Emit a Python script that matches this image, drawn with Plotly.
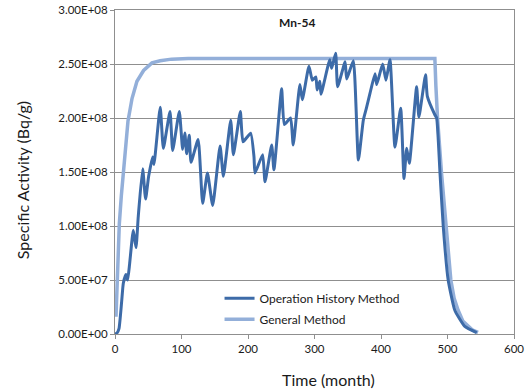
import plotly.graph_objects as go

# Operation History Method (time in months, activity in 1e8 Bq/g)
op_t = [0, 3, 6, 10, 12.5, 16.5, 19, 22, 27.5, 31.6, 35, 41.6, 46, 50.6, 56.6, 58.6,
        68, 72.7, 82.7, 86.7, 96.7, 101.7, 105, 107.8, 111.7, 114.3, 125, 131.8, 139,
        146.9, 158, 163, 174, 178, 188.5, 192.5, 204, 209, 210.5, 222, 225.6, 235.6,
        239, 250.6, 254.6, 264, 268, 278, 281.7, 291.7, 296.7, 302, 304, 308, 309.8,
        323, 325.8, 331.8, 334.8, 346, 348.4, 358.4, 366, 373.4, 378.4, 383.5, 391,
        393.5, 402.5, 407.5, 413.5, 421, 429.6, 434.6, 438.6, 442.6, 453.6, 457, 467,
        469.7, 481, 483.7, 488.7, 493.7, 501, 511, 526, 544]
op_v = [0, 0.01, 0.05, 0.30, 0.47, 0.55, 0.50, 0.65, 0.96, 0.80, 1.09, 1.53, 1.25,
        1.46, 1.64, 1.57, 2.10, 1.72, 2.06, 1.70, 2.06, 1.71, 1.86, 1.67, 1.84, 1.59,
        1.80, 1.21, 1.49, 1.19, 1.74, 1.46, 1.98, 1.66, 2.06, 1.78, 1.86, 1.64, 1.49,
        1.66, 1.41, 1.75, 1.52, 2.27, 1.94, 2.00, 1.75, 2.31, 2.17, 2.48, 2.35, 2.38,
        2.26, 2.34, 2.22, 2.54, 2.46, 2.60, 2.29, 2.52, 2.36, 2.53, 1.61, 1.98, 2.10,
        2.23, 2.41, 2.31, 2.50, 2.35, 2.54, 1.73, 2.09, 1.44, 1.72, 1.58, 2.29, 2.01,
        2.40, 2.20, 2.03, 2.00, 1.49, 0.99, 0.50, 0.22, 0.07, 0.012]

# General Method
gen_t = [1.5, 3, 4.5, 6.5, 9.5, 14.6, 19.5, 25.6, 33, 43, 55.6, 68, 85, 110, 200, 300,
         400, 481, 482.5, 485, 491, 497.7, 505, 510, 516, 523, 531, 538, 546]
gen_v = [0.16, 0.41, 0.72, 1.02, 1.28, 1.66, 1.97, 2.18, 2.34, 2.44, 2.51, 2.53, 2.545,
         2.55, 2.55, 2.55, 2.55, 2.55, 2.30, 2.00, 1.49, 0.99, 0.50, 0.33, 0.22, 0.12,
         0.07, 0.035, 0.015]

y_tickvals = [0, 0.5e8, 1.0e8, 1.5e8, 2.0e8, 2.5e8, 3.0e8]
y_ticktext = ["0.00E+00", "5.00E+07", "1.00E+08", "1.50E+08", "2.00E+08", "2.50E+08", "3.00E+08"]
x_tickvals = [0, 100, 200, 300, 400, 500, 600]

FONT = "Lato, 'Liberation Sans', sans-serif"
DARK = "#3d6ba8"
LIGHT = "#93afd9"
GRID = "#8f8f8f"

fig = go.Figure()
fig.add_trace(go.Scatter(x=gen_t, y=[v * 1e8 for v in gen_v], mode="lines",
                         name="General Method",
                         line=dict(color=LIGHT, width=3.5),
                         legendrank=2, legendgroup="g"))
fig.add_trace(go.Scatter(x=op_t, y=[v * 1e8 for v in op_v], mode="lines",
                         name="Operation History Method",
                         line=dict(color=DARK, width=3, shape="spline", smoothing=0.45),
                         legendrank=1, legendgroup="o"))

fig.update_layout(
    width=532, height=391,
    margin=dict(l=115, r=18, t=10, b=57, autoexpand=False),
    paper_bgcolor="white", plot_bgcolor="white",
    font=dict(family=FONT, size=11, color="#1a1a1a"),
    showlegend=True,
    legend=dict(x=0.262, y=0.155, xanchor="left", yanchor="top",
                bgcolor="rgba(0,0,0,0)", font=dict(size=12, color="#1a1a1a"),
                tracegroupgap=2, itemwidth=30),
    xaxis=dict(range=[0, 600], tickvals=x_tickvals, showgrid=False, zeroline=False,
               showline=True, linecolor=GRID, linewidth=1, mirror=True,
               ticks="outside", ticklen=4, tickcolor=GRID, automargin=False,
               tickfont=dict(family=FONT, size=11.5, color="#1a1a1a")),
    yaxis=dict(range=[0, 3e8], tickvals=y_tickvals, ticktext=y_ticktext,
               showgrid=True, gridcolor=GRID, gridwidth=1, zeroline=False,
               showline=True, linecolor=GRID, linewidth=1, mirror=True,
               ticks="outside", ticklen=4, tickcolor=GRID, automargin=False,
               tickfont=dict(family=FONT, size=11.5, color="#1a1a1a")),
    annotations=[
        dict(text="<b>Mn-54</b>", xref="paper", yref="paper", x=0.456, y=0.96,
             showarrow=False, font=dict(family=FONT, size=12, color="#1a1a1a"),
             xanchor="center", yanchor="middle"),
        dict(text="Specific Activity (Bq/g)", xref="paper", yref="paper", x=-0.233, y=0.475,
             showarrow=False, textangle=-90, font=dict(family=FONT, size=16, color="#1a1a1a"),
             xanchor="center", yanchor="middle"),
        dict(text="Time (month)", xref="paper", yref="paper", x=0.534, y=-0.139,
             showarrow=False, font=dict(family=FONT, size=16, color="#1a1a1a"),
             xanchor="center", yanchor="middle"),
    ],
)

fig.write_html("out.html")
